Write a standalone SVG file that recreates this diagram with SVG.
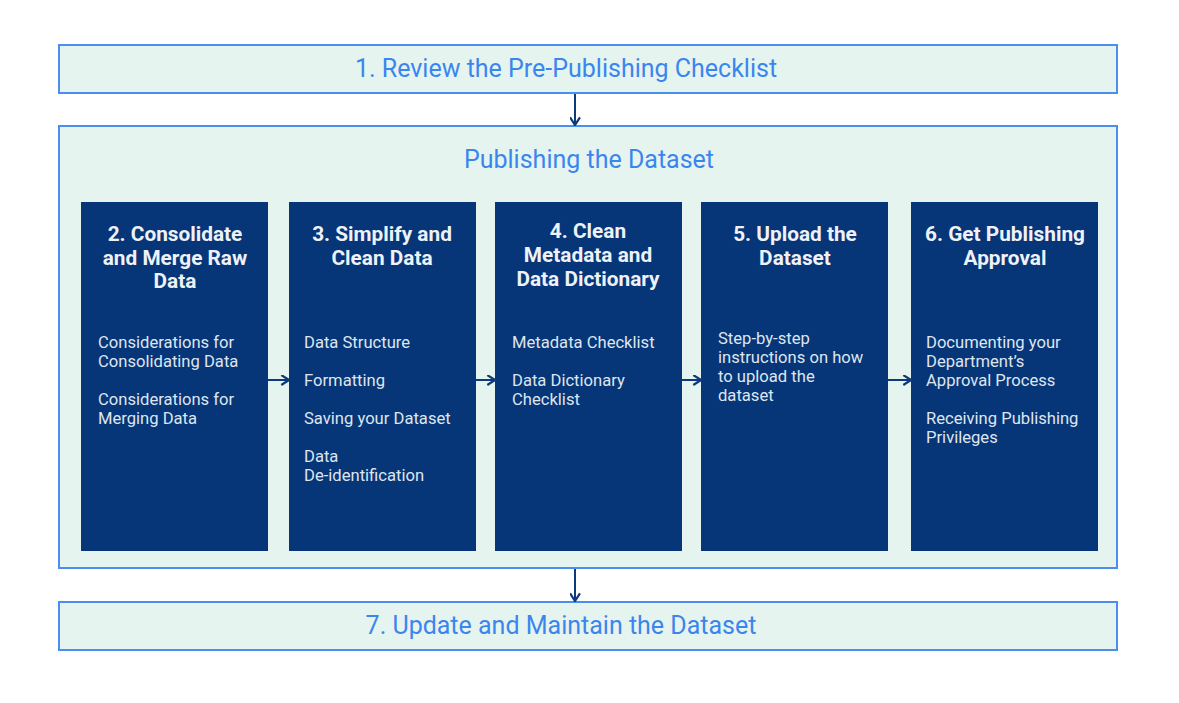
<svg xmlns="http://www.w3.org/2000/svg" width="1179" height="703" viewBox="0 0 1179 703">
  <style>
    .band { fill: #e6f4ef; stroke: #4a8ef0; stroke-width: 2; }
    .step { fill: #063578; }
    .band-text { font-family: Roboto, "Liberation Sans", sans-serif; font-size: 25px; fill: #3a86ee; text-anchor: middle; }
    .step-title { font-family: Roboto, "Liberation Sans", sans-serif; font-size: 20.8px; font-weight: bold; fill: #eef2f7; text-anchor: middle; }
    .step-body { font-family: Roboto, "Liberation Sans", sans-serif; font-size: 16.6px; fill: #dfe6ef; }
    .conn { fill: none; stroke: #0c3a7c; stroke-width: 2; marker-end: url(#chevron); }
  </style>
  <defs>
    <marker id="chevron" viewBox="0 0 10 10" refX="9" refY="5" markerWidth="11" markerHeight="11" markerUnits="userSpaceOnUse" orient="auto">
      <path d="M2,0.5 L9,5 L2,9.5" fill="none" stroke="#0c3a7c" stroke-width="2"/>
    </marker>
  </defs>
  <rect width="1179" height="703" fill="#ffffff"/>

  <g id="step1">
    <rect class="band" x="59" y="45" width="1058" height="48"/>
    <text class="band-text" x="566" y="77">1. Review the Pre-Publishing Checklist</text>
  </g>

  <g id="publishing">
    <rect class="band" x="59" y="126" width="1058" height="442"/>
    <text class="band-text" x="589" y="168">Publishing the Dataset</text>
  </g>

  <g id="step2">
    <rect class="step" x="81" y="202" width="187" height="349"/>
    <text class="step-title" x="175" y="241">2. Consolidate</text>
    <text class="step-title" x="175" y="265">and Merge Raw</text>
    <text class="step-title" x="175" y="288">Data</text>
    <text class="step-body" x="98" y="348">Considerations for</text>
    <text class="step-body" x="98" y="367">Consolidating Data</text>
    <text class="step-body" x="98" y="405">Considerations for</text>
    <text class="step-body" x="98" y="424">Merging Data</text>
  </g>

  <g id="step3">
    <rect class="step" x="289" y="202" width="187" height="349"/>
    <text class="step-title" x="382" y="241">3. Simplify and</text>
    <text class="step-title" x="382" y="265">Clean Data</text>
    <text class="step-body" x="304" y="348">Data Structure</text>
    <text class="step-body" x="304" y="386">Formatting</text>
    <text class="step-body" x="304" y="424">Saving your Dataset</text>
    <text class="step-body" x="304" y="462">Data</text>
    <text class="step-body" x="304" y="481">De-identification</text>
  </g>

  <g id="step4">
    <rect class="step" x="495" y="202" width="187" height="349"/>
    <text class="step-title" x="588" y="238">4. Clean</text>
    <text class="step-title" x="588" y="262">Metadata and</text>
    <text class="step-title" x="588" y="286">Data Dictionary</text>
    <text class="step-body" x="512" y="348">Metadata Checklist</text>
    <text class="step-body" x="512" y="386">Data Dictionary</text>
    <text class="step-body" x="512" y="405">Checklist</text>
  </g>

  <g id="step5">
    <rect class="step" x="701" y="202" width="187" height="349"/>
    <text class="step-title" x="795" y="241">5. Upload the</text>
    <text class="step-title" x="795" y="265">Dataset</text>
    <text class="step-body" x="718" y="344">Step-by-step</text>
    <text class="step-body" x="718" y="363">instructions on how</text>
    <text class="step-body" x="718" y="382">to upload the</text>
    <text class="step-body" x="718" y="401">dataset</text>
  </g>

  <g id="step6">
    <rect class="step" x="911" y="202" width="187" height="349"/>
    <text class="step-title" x="1005" y="241">6. Get Publishing</text>
    <text class="step-title" x="1005" y="265">Approval</text>
    <text class="step-body" x="926" y="348">Documenting your</text>
    <text class="step-body" x="926" y="367">Department’s</text>
    <text class="step-body" x="926" y="386">Approval Process</text>
    <text class="step-body" x="926" y="424">Receiving Publishing</text>
    <text class="step-body" x="926" y="443">Privileges</text>
  </g>

  <g id="step7">
    <rect class="band" x="59" y="602" width="1058" height="48"/>
    <text class="band-text" x="561" y="634">7. Update and Maintain the Dataset</text>
  </g>

  <g id="connectors">
    <path class="conn" d="M575,94 V125"/>
    <path class="conn" d="M268,380 H289"/>
    <path class="conn" d="M476,380 H495"/>
    <path class="conn" d="M682,380 H701"/>
    <path class="conn" d="M888,380 H911"/>
    <path class="conn" d="M575,569 V601"/>
  </g>
</svg>
